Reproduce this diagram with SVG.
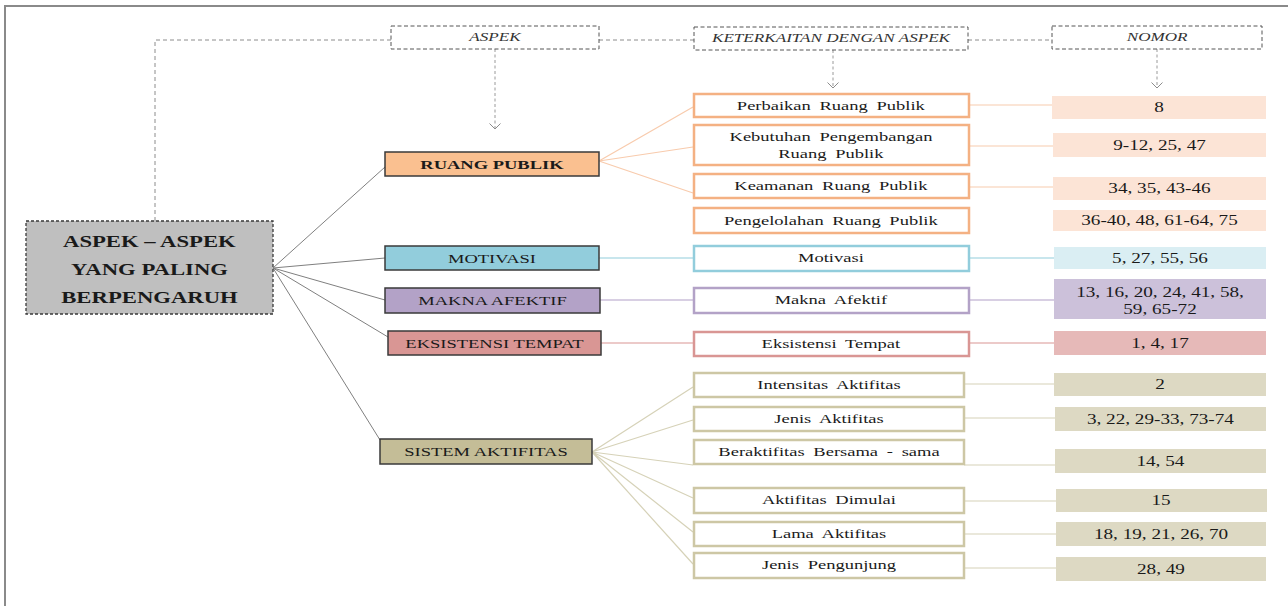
<svg xmlns="http://www.w3.org/2000/svg" width="1288" height="606" viewBox="0 0 1288 606">
<style>
text{font-family:"Liberation Serif","Times New Roman",serif;fill:#1a1a1a;text-anchor:middle;transform-box:fill-box;transform-origin:center;transform:scaleX(1.37)}
.hd{font-size:12.5px;font-style:italic;fill:#333}
.main{font-size:16px;font-weight:bold;transform:scaleX(1.42)}
.cat{font-size:13.5px}
.catb{font-size:13.5px;font-weight:bold}
.it{font-size:13.5px;word-spacing:3px}
.num{font-size:14px}
.hbox{fill:#fff;stroke:#555;stroke-width:1;stroke-dasharray:4 2.5}
.dash{fill:none;stroke:#8c8c8c;stroke-width:1;stroke-dasharray:4 3}
.arr{fill:none;stroke:#9a9a9a;stroke-width:1;stroke-dasharray:3 2.5}
.cbox{stroke:#3a3a3a;stroke-width:1.5}
.ibox{fill:#fff;stroke-width:2.5}
.o{stroke:#f4b183}.b{stroke:#92cddc}.p{stroke:#b3a2c7}.r{stroke:#d99694}.t{stroke:#cdc7a5}
.lm{stroke:#808080;stroke-width:1;fill:none}
.lo{stroke:#f8cbad;stroke-width:1.2;fill:none}
.lb{stroke:#b7dee8;stroke-width:1.5;fill:none}
.lp{stroke:#ccc0da;stroke-width:1.5;fill:none}
.lr{stroke:#e6b9b8;stroke-width:1.5;fill:none}
.lt{stroke:#d6d2b8;stroke-width:1.2;fill:none}
</style>
<defs>
<marker id="ah" viewBox="0 0 7 12" refX="6" refY="6" markerWidth="7" markerHeight="12" markerUnits="userSpaceOnUse" orient="auto">
<path d="M0.5,0.5 L6,6 L0.5,11.5" fill="none" stroke="#8c8c8c" stroke-width="1"/>
</marker>
</defs>
<rect width="1288" height="606" fill="#fff"/>
<path d="M5,606 V6 H1288" fill="none" stroke="#8a8a8a" stroke-width="2"/>

<g id="connectors">
<path class="dash" d="M391,40 H155 V221"/>
<path class="dash" d="M599,40 H694"/>
<path class="dash" d="M968,40 H1052"/>
<path class="arr" d="M495,49 V129" marker-end="url(#ah)"/>
<path class="arr" d="M833,50 V88" marker-end="url(#ah)"/>
<path class="arr" d="M1157,49 V88" marker-end="url(#ah)"/>
<path class="lm" d="M273,268 L385,167 M273,268 L385,258 M273,268 L385,300 M273,268 L388,337 M273,268 L380,440"/>
<path class="lo" d="M599,161 L693,107 M599,161 L693,147 M599,161 L693,193"/>
<path class="lo" d="M969,105 H1052 M969,146 H1053 M969,187 H1053"/>
<path class="lb" d="M599,258 H693 M969,258 H1054"/>
<path class="lp" d="M600,300 H693 M969,300 H1054"/>
<path class="lr" d="M601,343 H693 M969,343 H1054"/>
<path class="lt" d="M592,452 L693,387 M592,452 L693,420 M592,452 L693,465 M592,452 L693,498 M592,452 L693,532 M592,452 L693,564"/>
<path class="lt" d="M964,384 H1054 M964,418 H1055 M964,465 H1055 M964,501 H1056 M964,534 H1056 M964,568 H1056"/>
</g>

<g id="h-aspek"><rect class="hbox" x="391" y="26" width="208" height="23"/><text class="hd" x="495" y="41.5">ASPEK</text></g>
<g id="h-keterkaitan"><rect class="hbox" x="694" y="27" width="274" height="23"/><text class="hd" x="831" y="42.5">KETERKAITAN DENGAN ASPEK</text></g>
<g id="h-nomor"><rect class="hbox" x="1052" y="26" width="210" height="23"/><text class="hd" x="1157" y="41.5">NOMOR</text></g>

<g id="main">
<rect x="26" y="221" width="247" height="93" fill="#bfbfbf" stroke="#3a3a3a" stroke-width="1.3" stroke-dasharray="3 2"/>
<text class="main" x="149.5" y="247.5">ASPEK – ASPEK</text>
<text class="main" x="149.5" y="275">YANG PALING</text>
<text class="main" x="149.5" y="303">BERPENGARUH</text>
</g>

<g id="c-ruang"><rect class="cbox" x="385" y="152" width="214" height="24" fill="#fac090"/><text class="catb" x="492" y="169">RUANG PUBLIK</text></g>
<g id="c-motivasi"><rect class="cbox" x="385" y="246" width="214" height="24" fill="#92cddc"/><text class="cat" x="492" y="263">MOTIVASI</text></g>
<g id="c-makna"><rect class="cbox" x="385" y="288" width="215" height="25" fill="#b3a2c7"/><text class="cat" x="492.5" y="305.5">MAKNA AFEKTIF</text></g>
<g id="c-eksistensi"><rect class="cbox" x="388" y="331" width="213" height="24" fill="#d99694"/><text class="cat" x="494.5" y="348">EKSISTENSI TEMPAT</text></g>
<g id="c-sistem"><rect class="cbox" x="380" y="439" width="212" height="25" fill="#c4bd97"/><text class="cat" x="486" y="456.5">SISTEM AKTIFITAS</text></g>

<g id="i-perbaikan"><rect class="ibox o" x="694" y="94" width="275" height="23"/><text class="it" x="831" y="110">Perbaikan Ruang Publik</text></g>
<g id="i-kebutuhan"><rect class="ibox o" x="694" y="125" width="275" height="40"/><text class="it" x="831" y="141.5">Kebutuhan Pengembangan</text><text class="it" x="831" y="158.5">Ruang Publik</text></g>
<g id="i-keamanan"><rect class="ibox o" x="694" y="174" width="275" height="24"/><text class="it" x="831" y="190.5">Keamanan Ruang Publik</text></g>
<g id="i-pengelolahan"><rect class="ibox o" x="694" y="208" width="275" height="25"/><text class="it" x="831" y="225">Pengelolahan Ruang Publik</text></g>
<g id="i-motivasi"><rect class="ibox b" x="694" y="246" width="275" height="25"/><text class="it" x="831" y="262.5">Motivasi</text></g>
<g id="i-makna"><rect class="ibox p" x="694" y="288" width="275" height="25"/><text class="it" x="831" y="304.5">Makna Afektif</text></g>
<g id="i-eksistensi"><rect class="ibox r" x="694" y="332" width="275" height="24"/><text class="it" x="831" y="348.5">Eksistensi Tempat</text></g>
<g id="i-intensitas"><rect class="ibox t" x="694" y="373" width="270" height="24"/><text class="it" x="829" y="389.5">Intensitas Aktifitas</text></g>
<g id="i-jenis"><rect class="ibox t" x="694" y="407" width="270" height="24"/><text class="it" x="829" y="423.5">Jenis Aktifitas</text></g>
<g id="i-beraktifitas"><rect class="ibox t" x="694" y="440" width="270" height="24"/><text class="it" x="829" y="456.5">Beraktifitas Bersama - sama</text></g>
<g id="i-dimulai"><rect class="ibox t" x="694" y="488" width="270" height="25"/><text class="it" x="829" y="504.5">Aktifitas Dimulai</text></g>
<g id="i-lama"><rect class="ibox t" x="694" y="522" width="270" height="24"/><text class="it" x="829" y="538.5">Lama Aktifitas</text></g>
<g id="i-pengunjung"><rect class="ibox t" x="694" y="553" width="270" height="25"/><text class="it" x="829" y="569.5">Jenis Pengunjung</text></g>

<g id="n-8"><rect x="1052" y="96" width="214" height="23" fill="#fce4d6"/><text class="num" x="1159" y="112.5">8</text></g>
<g id="n-9"><rect x="1053" y="133" width="213" height="24" fill="#fce4d6"/><text class="num" x="1159.5" y="150">9-12, 25, 47</text></g>
<g id="n-34"><rect x="1053" y="177" width="213" height="23" fill="#fce4d6"/><text class="num" x="1159.5" y="193.5">34, 35, 43-46</text></g>
<g id="n-36"><rect x="1053" y="210" width="213" height="21" fill="#fce4d6"/><text class="num" x="1159.5" y="225.5">36-40, 48, 61-64, 75</text></g>
<g id="n-5"><rect x="1054" y="247" width="212" height="22" fill="#daeef3"/><text class="num" x="1160" y="263">5, 27, 55, 56</text></g>
<g id="n-13"><rect x="1054" y="279" width="212" height="40" fill="#ccc1da"/><text class="num" x="1160" y="297">13, 16, 20, 24, 41, 58,</text><text class="num" x="1160" y="314.5">59, 65-72</text></g>
<g id="n-1"><rect x="1054" y="331" width="212" height="24" fill="#e6b9b8"/><text class="num" x="1160" y="348">1, 4, 17</text></g>
<g id="n-2"><rect x="1054" y="373" width="212" height="23" fill="#ddd9c3"/><text class="num" x="1160" y="389.5">2</text></g>
<g id="n-3"><rect x="1055" y="407" width="211" height="24" fill="#ddd9c3"/><text class="num" x="1160.5" y="424">3, 22, 29-33, 73-74</text></g>
<g id="n-14"><rect x="1055" y="449" width="211" height="24" fill="#ddd9c3"/><text class="num" x="1160.5" y="466">14, 54</text></g>
<g id="n-15"><rect x="1056" y="489" width="211" height="23" fill="#ddd9c3"/><text class="num" x="1161" y="505.5">15</text></g>
<g id="n-18"><rect x="1056" y="522" width="210" height="24" fill="#ddd9c3"/><text class="num" x="1161" y="539">18, 19, 21, 26, 70</text></g>
<g id="n-28"><rect x="1056" y="557" width="210" height="24" fill="#ddd9c3"/><text class="num" x="1161" y="574">28, 49</text></g>
</svg>
